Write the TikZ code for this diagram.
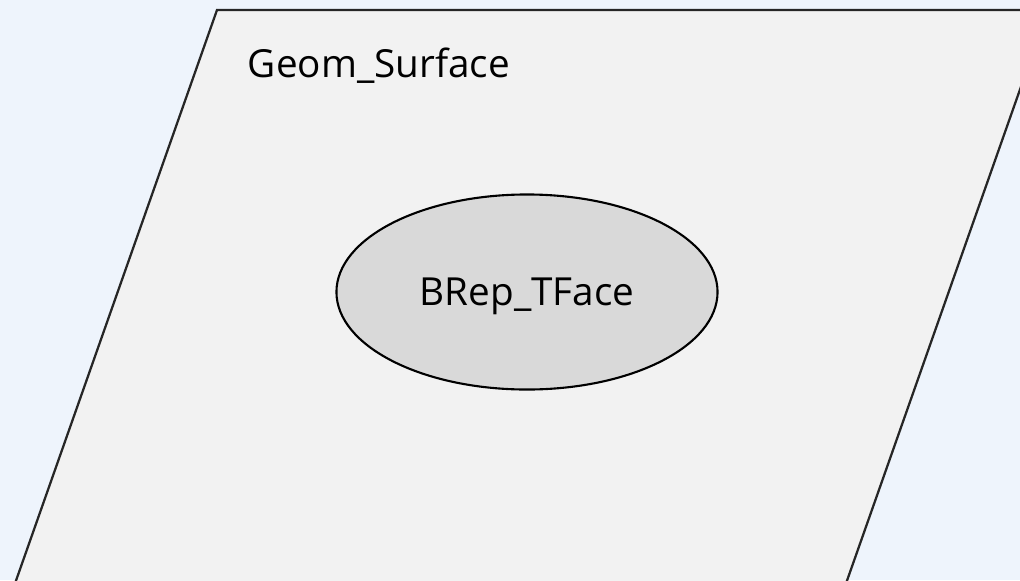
\documentclass[tikz,border=0pt]{standalone}
\usepackage{fontspec}
\setmainfont{Open Sans}
\usetikzlibrary{shapes.geometric}

\definecolor{pagebg}{HTML}{EEF4FC}
\definecolor{surfgray}{HTML}{F2F2F2}
\definecolor{facegray}{HTML}{D9D9D9}

\tikzset{
  surface/.style={draw=black!85,line width=1.6pt,fill=surfgray},
  face/.style={ellipse,draw=black,line width=1.5pt,fill=facegray,
    minimum width=9.525cm,minimum height=4.875cm,inner sep=0pt,text depth=0pt},
  label text/.style={font=\fontsize{27.5}{32}\selectfont}
}

\begin{document}
\begin{tikzpicture}[x=0.025cm,y=-0.025cm]
	\useasboundingbox (0,0) rectangle (1020,580);
	\clip (0,0) rectangle (1020,580);
	\fill[pagebg] (0,0) rectangle (1020,580);
	% the surface, a parallelogram running off the page
	\draw[surface] (217,10) -- (1048,10) -- (843,592) -- (12,592) -- cycle;
	\node[label text,anchor=base west] (surf) at (243,77) {Geom\_Surface};
	\node[face,label text] (tface) at (527,292) {BRep\_TFace};
\end{tikzpicture}
\end{document}
